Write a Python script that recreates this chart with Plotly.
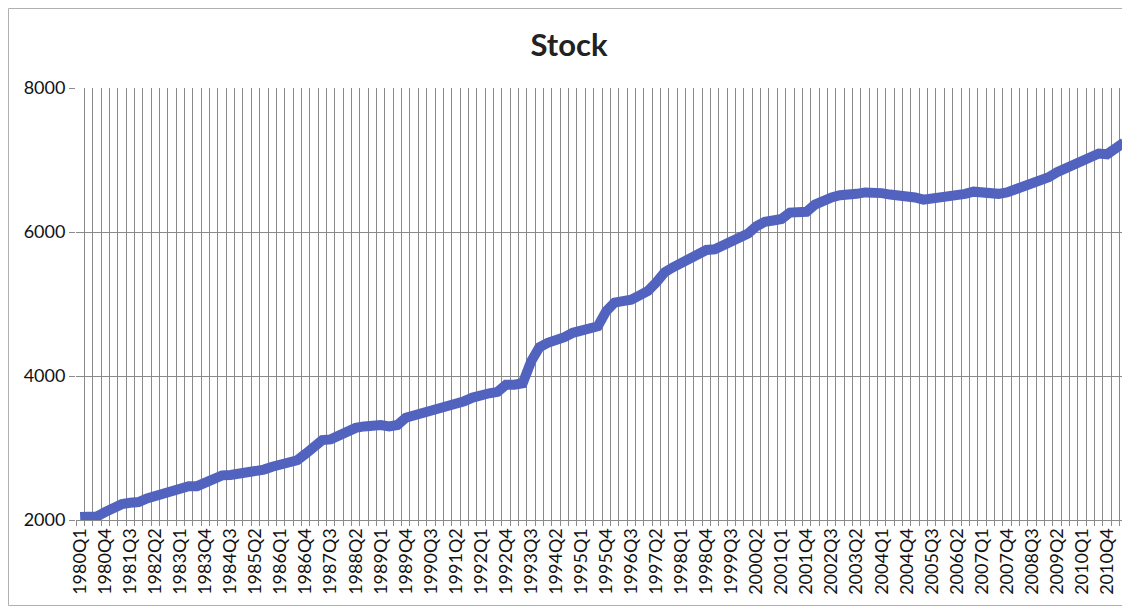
import plotly.graph_objects as go

# ── Data ──────────────────────────────────────────────────────────────────────

quarters = [f"{y}Q{q}" for y in range(1980, 2012) for q in range(1, 5)][:126]

stock = [
    2040, 2045, 2050, 2110, 2170, 2220, 2240, 2250, 2300, 2340,
    2370, 2390, 2430, 2470, 2470, 2530, 2590, 2620, 2625, 2640,
    2670, 2690, 2700, 2740, 2780, 2820, 2830, 2920, 3030, 3110,
    3120, 3180, 3250, 3280, 3300, 3320, 3320, 3300, 3320, 3420,
    3450, 3490, 3530, 3560, 3580, 3610, 3650, 3700, 3740, 3760,
    3780, 3880, 3880, 3900, 4200, 4400, 4460, 4490, 4540, 4600,
    4640, 4670, 4690, 4900, 5020, 5040, 5060, 5120, 5180, 5300,
    5440, 5510, 5570, 5640, 5720, 5750, 5760, 5820, 5870, 5910,
    5980, 6080, 6140, 6160, 6180, 6270, 6280, 6280, 6380, 6450,
    6480, 6510, 6510, 6530, 6550, 6560, 6540, 6520, 6510, 6520,
    6480, 6450, 6460, 6470, 6480, 6510, 6530, 6560, 6540, 6520,
    6530, 6550, 6590, 6640, 6680, 6720, 6760, 6830, 6880, 6920,
    6980, 7040, 7090, 7080, 7150, 7240,
]

y_ticks = [2000, 4000, 6000, 8000]

# ── Style ─────────────────────────────────────────────────────────────────────

_LINE_COLOR = "#5263bf"
_GRID_COLOR = "#8a8a8a"
_FONT = "Lato, 'Open Sans', sans-serif"

# page body has an 8px margin, so the figure is sized to fit inside the window
W, H = 1122, 598
M = dict(l=68, r=2, t=80, b=86)
pw, ph = W - M["l"] - M["r"], H - M["t"] - M["b"]

idx = list(range(len(quarters)))

fig = go.Figure()
fig.add_trace(
    go.Scatter(
        x=idx, y=stock,
        mode="lines",
        name="Stock",
        line=dict(color=_LINE_COLOR, width=10),
        customdata=quarters,
        hovertemplate="%{customdata}: %{y:,.0f}<extra></extra>",
    )
)

fig.update_layout(
    width=W, height=H,
    title=dict(text="<b>Stock</b>", x=0.5, xanchor="center",
               y=1 - 37 / H, yanchor="middle",
               font=dict(family=_FONT, size=31, color="#222222")),
    showlegend=False,
    margin=M,
    plot_bgcolor="white",
    paper_bgcolor="white",
    font=dict(family=_FONT, color="#111111"),
    # thin chart-area border around the whole figure
    shapes=[dict(type="rect", xref="paper", yref="paper",
                 x0=-(M["l"] - 0.5) / pw, x1=1 + (M["r"] - 0.5) / pw,
                 y0=-(M["b"] - 0.5) / ph, y1=1 + (M["t"] - 0.5) / ph,
                 line=dict(color="#b0b0b0", width=1))],
)

fig.update_xaxes(
    range=[-0.5, len(quarters) - 0.5],
    tickmode="array",
    tickvals=idx[::3],
    ticktext=quarters[::3],
    tickangle=-90,
    tickfont=dict(size=18),
    ticks="",
    showgrid=False,
    showline=True, linecolor=_GRID_COLOR, linewidth=1,
    zeroline=False,
    automargin=False,
    minor=dict(tickmode="linear", tick0=-0.5, dtick=1,
               showgrid=True, gridcolor=_GRID_COLOR, gridwidth=1,
               ticks="outside", ticklen=5, tickcolor=_GRID_COLOR),
)
fig.update_yaxes(
    range=[2000, 8000],
    tickmode="array",
    tickvals=y_ticks,
    tickfont=dict(size=18),
    ticks="outside", ticklen=6, tickcolor=_GRID_COLOR,
    showgrid=True, gridcolor=_GRID_COLOR, gridwidth=1,
    zeroline=False,
    automargin=False,
)

fig.write_html("out.html")
